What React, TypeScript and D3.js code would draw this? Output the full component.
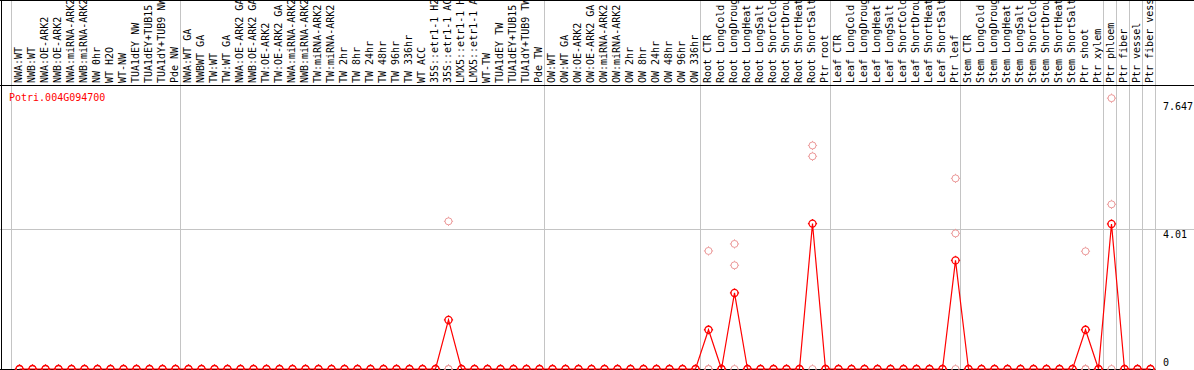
import React, { useEffect } from 'react';
import * as d3 from 'd3';

const W = 1194;
const H = 370;

const geneId = 'Potri.004G094700';

const categories = [
  'NWA:WT', 'NWB:WT', 'NWA:OE-ARK2', 'NWB:OE-ARK2', 'NWA:miRNA-ARK2', 'NWB:miRNA-ARK2',
  'NW 0hr', 'WT H2O', 'WT-NW', 'TUA1dEY NW', 'TUA1dEY+TUB15', 'TUA1dY+TUB9 NW', 'Pde NW',
  'NWA:WT GA', 'NWBWT GA', 'TW:WT', 'TW:WT GA', 'NWA:OE-ARK2 GA', 'NWB:OE-ARK2 GA',
  'TW:OE-ARK2', 'TW:OE-ARK2 GA', 'NWA:miRNA-ARK2', 'NWB:miRNA-ARK2', 'TW:miRNA-ARK2',
  'TW:miRNA-ARK2', 'TW 2hr', 'TW 8hr', 'TW 24hr', 'TW 48hr', 'TW 96hr', 'TW 336hr',
  'WT ACC', '35S::etr1-1 H2O', '35S::etr1-1 ACC', 'LMX5::etr1-1 H2O', 'LMX5::etr1-1 ACC',
  'WT-TW', 'TUA1dEY TW', 'TUA1dEY+TUB15', 'TUA1dY+TUB9 TW', 'Pde TW',
  'OW:WT', 'OW:WT GA', 'OW:OE-ARK2', 'OW:OE-ARK2 GA', 'OW:miRNA-ARK2', 'OW:miRNA-ARK2',
  'OW 2hr', 'OW 8hr', 'OW 24hr', 'OW 48hr', 'OW 96hr', 'OW 336hr',
  'Root CTR', 'Root LongCold', 'Root LongDrought', 'Root LongHeat', 'Root LongSalt',
  'Root ShortCold', 'Root ShortDrought', 'Root ShortHeat', 'Root ShortSalt', 'Ptr root',
  'Leaf CTR', 'Leaf LongCold', 'Leaf LongDrought', 'Leaf LongHeat', 'Leaf LongSalt',
  'Leaf ShortCold', 'Leaf ShortDrought', 'Leaf ShortHeat', 'Leaf ShortSalt', 'Ptr leaf',
  'Stem CTR', 'Stem LongCold', 'Stem LongDrought', 'Stem LongHeat', 'Stem LongSalt',
  'Stem ShortCold', 'Stem ShortDrought', 'Stem ShortHeat', 'Stem ShortSalt', 'Ptr shoot',
  'Ptr xylem', 'Ptr phloem', 'Ptr fiber', 'Ptr vessel', 'Ptr fiber vessel',
];

// mean expression per sample
const meanValues = [
  0, 0, 0, 0, 0, 0, 0, 0, 0, 0, 0, 0, 0,
  0, 0, 0, 0, 0, 0, 0, 0, 0, 0, 0, 0, 0, 0, 0, 0, 0, 0, 0, 0, 1.40, 0, 0, 0, 0, 0, 0, 0,
  0, 0, 0, 0, 0, 0, 0, 0, 0, 0, 0, 0,
  1.12, 0, 2.17, 0, 0, 0, 0, 0, 4.15, 0,
  0, 0, 0, 0, 0, 0, 0, 0, 0, 3.10,
  0, 0, 0, 0, 0, 0, 0, 0, 0, 1.12, 0,
  4.14, 0, 0, 0,
];

// replicate values
const replicate1 = [
  0, 0, 0, 0, 0, 0, 0, 0, 0, 0, 0, 0, 0,
  0, 0, 0, 0, 0, 0, 0, 0, 0, 0, 0, 0, 0, 0, 0, 0, 0, 0, 0, 0, 4.215, 0, 0, 0, 0, 0, 0, 0,
  0, 0, 0, 0, 0, 0, 0, 0, 0, 0, 0, 0,
  3.37, 0, 3.57, 0, 0, 0, 0, 0, 6.38, 0,
  0, 0, 0, 0, 0, 0, 0, 0, 0, 5.44,
  0, 0, 0, 0, 0, 0, 0, 0, 0, 3.36, 0,
  7.73, 0, 0, 0,
];
const replicate2 = [
  0, 0, 0, 0, 0, 0, 0, 0, 0, 0, 0, 0, 0,
  0, 0, 0, 0, 0, 0, 0, 0, 0, 0, 0, 0, 0, 0, 0, 0, 0, 0, 0, 0, 0, 0, 0, 0, 0, 0, 0, 0,
  0, 0, 0, 0, 0, 0, 0, 0, 0, 0, 0, 0,
  0, 0, 2.96, 0, 0, 0, 0, 0, 6.07, 0,
  0, 0, 0, 0, 0, 0, 0, 0, 0, 3.87,
  0, 0, 0, 0, 0, 0, 0, 0, 0, 0, 0,
  4.70, 0, 0, 0,
];
const replicate3 = [
  0, 0, 0, 0, 0, 0, 0, 0, 0, 0, 0, 0, 0,
  0, 0, 0, 0, 0, 0, 0, 0, 0, 0, 0, 0, 0, 0, 0, 0, 0, 0, 0, 0, 0, 0, 0, 0, 0, 0, 0, 0,
  0, 0, 0, 0, 0, 0, 0, 0, 0, 0, 0, 0,
  0, 0, 0, 0, 0, 0, 0, 0, 0, 0,
  0, 0, 0, 0, 0, 0, 0, 0, 0, 0,
  0, 0, 0, 0, 0, 0, 0, 0, 0, 0, 0,
  0, 0, 0, 0,
];

// index of last sample of each group (separator drawn after it)
const groupEnds = [-1, 12, 40, 52, 62, 72, 83, 84, 85, 86, 87];

const axisTicks = [0, 4.01, 7.647];
const axisTickLabels = ['0', '4.01', '7.647'];
const gridTicks = [4.01];

const FONT = '"DejaVu Sans Mono", monospace';
const RED = '#ff0000';
const PINK = '#ec9a9a';
const GRID = '#c4c4c4';

function Marker({ cx, cy, color, sw }: { cx: number; cy: number; color: string; sw: number }) {
  const r = 3.5;
  const t = 4.6;
  return (
    <g stroke={color} strokeWidth={sw} fill="none">
      <circle cx={cx} cy={cy} r={r} />
      <line x1={cx} y1={cy - t} x2={cx} y2={cy - r} />
      <line x1={cx} y1={cy + r} x2={cx} y2={cy + t} />
      <line x1={cx - t} y1={cy} x2={cx - r} y2={cy} />
      <line x1={cx + r} y1={cy} x2={cx + t} y2={cy} />
    </g>
  );
}

export default function App() {
  useEffect(() => {
    document.body.style.margin = '0';
  }, []);

  const n = categories.length;
  const x = d3
    .scaleBand<number>()
    .domain(d3.range(n))
    .range([11.5, 11.5 + 13 * n])
    .paddingInner(0)
    .paddingOuter(0);
  const bw = x.bandwidth();
  const px = (i: number) => (x(i) as number) + 8;
  const y = d3.scaleLinear().domain([0, 4.01]).range([369, 228.5]);

  const linePath = d3
    .line<number>()
    .x((_, i) => px(i))
    .y((d) => y(d))(meanValues) as string;

  const plotRight = (x(n - 1) as number) + bw;
  const replicates = [replicate1, replicate2, replicate3];

  return (
    <svg
      width={W}
      height={H}
      style={{ position: 'absolute', left: 0, top: 0, display: 'block', background: '#fff' }}
    >
      <rect x={0} y={0} width={W} height={H} fill="#fff" />

      {/* group separators */}
      {groupEnds.map((g) => {
        const gx = g < 0 ? (x(0) as number) : (x(g) as number) + bw;
        return <line key={'g' + g} x1={gx} y1={0} x2={gx} y2={H} stroke={GRID} strokeWidth={1} />;
      })}

      {/* horizontal grid */}
      {gridTicks.map((t) => (
        <line key={'h' + t} x1={0} x2={W} y1={Math.round(y(t)) + 0.5} y2={Math.round(y(t)) + 0.5} stroke={GRID} strokeWidth={1} />
      ))}

      {/* frame */}
      <line x1={0} x2={W} y1={0.5} y2={0.5} stroke="#000" strokeWidth={1} />
      <line x1={0} x2={W} y1={85.5} y2={85.5} stroke="#000" strokeWidth={1} />
      <line x1={1.5} x2={1.5} y1={0} y2={H} stroke="#000" strokeWidth={1} />
      <line x1={0} x2={plotRight} y1={369.5} y2={369.5} stroke="#000" strokeWidth={1} />

      {/* category labels */}
      {categories.map((c, i) => (
        <text
          key={'l' + i}
          transform={`translate(${(x(i) as number) + 10.5},83) rotate(-90)`}
          fontFamily={FONT}
          fontSize={10}
          fill="#000"
          textAnchor="start"
        >
          {c}
        </text>
      ))}

      {/* gene id */}
      <text x={9} y={101} fontFamily={FONT} fontSize={10} fill={RED}>
        {geneId}
      </text>

      {/* right axis labels */}
      {axisTicks.map((t, k) => (
        <text
          key={'a' + k}
          x={1163}
          y={Math.min(y(t) + 9, 366)}
          fontFamily={FONT}
          fontSize={10}
          fill="#000"
        >
          {axisTickLabels[k]}
        </text>
      ))}

      {/* replicate points */}
      {replicates.map((rep, r) =>
        rep.map((v, i) => <Marker key={`r${r}-${i}`} cx={px(i)} cy={y(v)} color={PINK} sw={1} />)
      )}

      {/* mean line */}
      <path d={linePath} fill="none" stroke={RED} strokeWidth={1.2} />

      {/* mean points */}
      {meanValues.map((v, i) => (
        <Marker key={'m' + i} cx={px(i)} cy={y(v)} color={RED} sw={1.3} />
      ))}
    </svg>
  );
}
